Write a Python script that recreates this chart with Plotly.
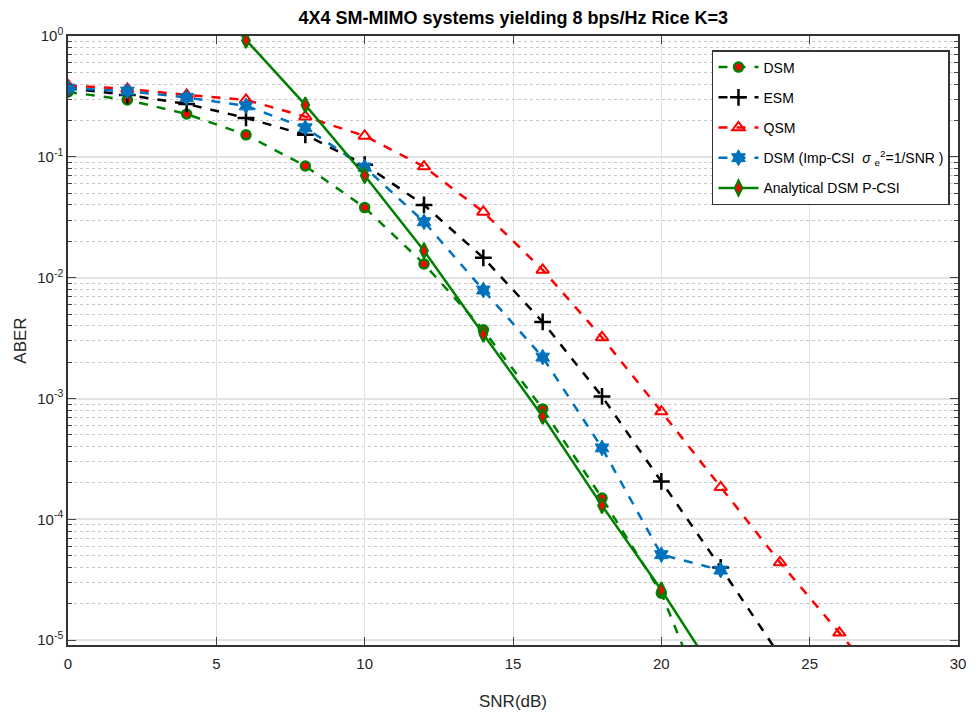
import plotly.graph_objects as go

# ---- data ----
dsm_snr = [0, 2, 4, 6, 8, 10, 12, 14, 16, 18, 20, 22]
dsm_aber = [0.344, 0.296, 0.226, 0.152, 0.084, 0.038, 0.013, 0.0037, 8.2e-4, 1.5e-4, 2.45e-5, 1.5e-6]

esm_snr = [0, 2, 4, 6, 8, 10, 12, 14, 16, 18, 20, 22, 24]
esm_aber = [0.37, 0.325, 0.274, 0.21, 0.152, 0.086, 0.040, 0.0146, 0.0043, 1.04e-3, 2.06e-4, 4.0e-5, 7.4e-6]

qsm_snr = [0, 2, 4, 6, 8, 10, 12, 14, 16, 18, 20, 22, 24, 26, 28]
qsm_aber = [0.39, 0.365, 0.325, 0.296, 0.215, 0.149, 0.083, 0.035, 0.0116, 3.2e-3, 7.8e-4, 1.84e-4, 4.4e-5, 1.15e-5, 3e-6]

imp_snr = [0, 2, 4, 6, 8, 10, 12, 14, 16, 18, 20, 22]
imp_aber = [0.37, 0.35, 0.31, 0.264, 0.174, 0.082, 0.029, 7.9e-3, 2.2e-3, 3.9e-4, 5.1e-5, 3.8e-5]

ana_snr = [4, 6, 8, 10, 12, 14, 16, 18, 20, 22]
ana_aber = [3.2, 0.92, 0.269, 0.07, 0.0167, 0.0034, 7.1e-4, 1.3e-4, 2.6e-5, 4.5e-6]

x_ticks = [0, 5, 10, 15, 20, 25, 30]
y_tickvals = [1, 1e-1, 1e-2, 1e-3, 1e-4, 1e-5]
y_ticktext = ["10<sup>0</sup>", "10<sup>-1</sup>", "10<sup>-2</sup>", "10<sup>-3</sup>",
              "10<sup>-4</sup>", "10<sup>-5</sup>"]

names = ["DSM", "ESM", "QSM",
         "DSM (Imp-CSI  <i>σ</i> <sub>e</sub><sup>2</sup>=1/SNR )",
         "Analytical DSM P-CSI"]

GREEN = "#008000"
BLUE = "#0072BD"
RED = "#FF0000"
FONT = "Liberation Sans Narrow, Arial Narrow, Liberation Sans, Arial"

fig = go.Figure()

fig.add_trace(go.Scatter(
    x=dsm_snr, y=dsm_aber, name=names[0], mode="lines+markers", legendgroup="a",
    line=dict(color=GREEN, width=2.5, dash="dash"),
    marker=dict(symbol="circle", size=9, color=RED, line=dict(color=GREEN, width=2.5))))

fig.add_trace(go.Scatter(
    x=esm_snr, y=esm_aber, name=names[1], mode="lines+markers", legendgroup="b",
    line=dict(color="black", width=2.5, dash="dash"),
    marker=dict(symbol="cross-thin", size=12, color="black", line=dict(color="black", width=2.5))))

fig.add_trace(go.Scatter(
    x=qsm_snr, y=qsm_aber, name=names[2], mode="lines+markers", legendgroup="c",
    line=dict(color=RED, width=2.5, dash="dash"),
    marker=dict(symbol="triangle-up-open", size=11, color=RED, line=dict(color=RED, width=2))))

fig.add_trace(go.Scatter(
    x=imp_snr, y=imp_aber, name=names[3], mode="lines+markers", legendgroup="d",
    line=dict(color=BLUE, width=2.5, dash="dash"),
    marker=dict(symbol="hexagram", size=12, color=BLUE, line=dict(color=BLUE, width=1))))

fig.add_trace(go.Scatter(
    x=ana_snr, y=ana_aber, name=names[4], mode="lines+markers", legendgroup="e",
    line=dict(color=GREEN, width=2.5),
    marker=dict(symbol="diamond-tall", size=11, color=RED, line=dict(color=GREEN, width=2))))

# the page body has an 8px margin, so the figure is drawn 8px in from the corner
fig.update_layout(
    width=968, height=714,
    margin=dict(l=60, r=18, t=28, b=77, autoexpand=False),
    paper_bgcolor="white", plot_bgcolor="white",
    font=dict(family=FONT, size=15, color="#262626"),
    title=dict(text="<b>4X4 SM-MIMO systems yielding 8 bps/Hz Rice K=3</b>",
               x=0.522, xanchor="center", y=1.0, yanchor="top",
               pad=dict(t=3, b=0, l=0, r=0),
               font=dict(family=FONT, size=18, color="black")),
    legend=dict(x=0.991, xanchor="right", y=0.977, yanchor="top",
                bgcolor="white", bordercolor="#333333", borderwidth=1.5,
                font=dict(family=FONT, size=14, color="black"),
                itemwidth=40, tracegroupgap=9),
    showlegend=True,
)

fig.update_xaxes(
    range=[0, 30], tickvals=x_ticks, ticks="inside", ticklen=8, tickcolor="#444",
    showline=True, linecolor="#333333", linewidth=1.5, mirror="ticks",
    showgrid=True, gridcolor="#e2e2e2", gridwidth=1.2, zeroline=False,
    automargin=False, ticklabelstandoff=4,
    title=dict(text="SNR(dB)", font=dict(size=17), standoff=24),
    tickfont=dict(size=15),
)

fig.update_yaxes(
    type="log", range=[-5.04, 0], tickvals=y_tickvals, ticktext=y_ticktext,
    ticks="inside", ticklen=8, tickcolor="#444",
    showline=True, linecolor="#333333", linewidth=1.5, mirror="ticks",
    showgrid=True, gridcolor="#e2e2e2", gridwidth=1.5, zeroline=False,
    automargin=False,
    minor=dict(dtick="D1", ticks="inside", ticklen=4, tickcolor="#444",
               showgrid=True, gridcolor="#c8c8c8", griddash="dot", gridwidth=1),
    title=dict(text="ABER", font=dict(size=17), standoff=6),
    tickfont=dict(size=15),
)

fig.write_html("out.html")
